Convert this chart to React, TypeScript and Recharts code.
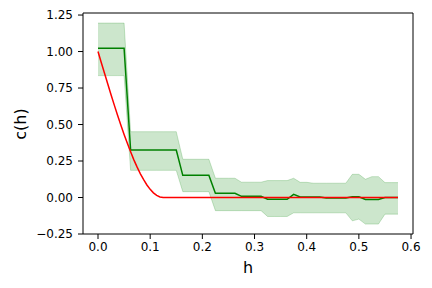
import { Area, ComposedChart, Label, Line, ReferenceLine, XAxis, YAxis } from "recharts";

// lag grid (h) used by the empirical estimate
const H = [
  0, 0.0125, 0.025, 0.0375, 0.05, 0.0625, 0.075, 0.0875, 0.1, 0.1125, 0.125, 0.1375, 0.15, 0.1625, 0.175, 0.1875,
  0.2, 0.2125, 0.225, 0.2375, 0.25, 0.2625, 0.275, 0.2875, 0.3, 0.3125, 0.325, 0.3375, 0.35, 0.3625, 0.375, 0.3875,
  0.4, 0.4125, 0.425, 0.4375, 0.45, 0.4625, 0.475, 0.4875, 0.5, 0.5125, 0.525, 0.5375, 0.55, 0.5625, 0.575,
];

// empirical c(h) (green line)
const C_EMP = [
  1.022, 1.022, 1.022, 1.022, 1.022, 0.325, 0.325, 0.325, 0.325, 0.325, 0.325, 0.325, 0.325, 0.152, 0.152, 0.152,
  0.152, 0.152, 0.029, 0.029, 0.029, 0.029, 0.008, 0.008, 0.008, 0.008, -0.012, -0.012, -0.012, -0.012, 0.022, 0.004,
  0.004, 0.004, 0.004, -0.004, -0.004, -0.004, -0.004, 0.005, 0.005, -0.014, -0.014, -0.014, 0.0, 0.0, 0.0,
];

// band around the estimate
const C_LOW = [
  0.835, 0.835, 0.835, 0.835, 0.835, 0.186, 0.186, 0.186, 0.186, 0.186, 0.186, 0.186, 0.186, 0.04, 0.04, 0.04,
  0.04, 0.04, -0.09, -0.09, -0.09, -0.09, -0.09, -0.09, -0.09, -0.09, -0.13, -0.13, -0.13, -0.13, -0.105, -0.105,
  -0.105, -0.105, -0.105, -0.105, -0.105, -0.105, -0.105, -0.16, -0.148, -0.182, -0.182, -0.182, -0.114, -0.114, -0.114,
];
const C_HIGH = [
  1.195, 1.195, 1.195, 1.195, 1.195, 0.451, 0.451, 0.451, 0.451, 0.451, 0.451, 0.451, 0.451, 0.262, 0.262, 0.262,
  0.262, 0.262, 0.132, 0.132, 0.132, 0.132, 0.105, 0.105, 0.105, 0.105, 0.116, 0.116, 0.116, 0.116, 0.132, 0.104,
  0.104, 0.098, 0.098, 0.098, 0.098, 0.098, 0.098, 0.159, 0.159, 0.125, 0.143, 0.143, 0.102, 0.102, 0.102,
];

// true model (red line)
const H_MODEL = [
  0, 0.00625, 0.0125, 0.01875, 0.025, 0.03125, 0.0375, 0.04375, 0.05, 0.05625, 0.0625, 0.06875, 0.075, 0.08125,
  0.0875, 0.09375, 0.1, 0.10625, 0.1125, 0.11875, 0.125, 0.575,
];
const C_MODEL = [
  1, 0.925, 0.851, 0.777, 0.704, 0.633, 0.564, 0.496, 0.432, 0.371, 0.313, 0.258, 0.208, 0.162, 0.122, 0.086,
  0.056, 0.032, 0.015, 0.004, 0, 0,
];

const X_TICKS = [0, 0.1, 0.2, 0.3, 0.4, 0.5, 0.6];
const Y_TICKS = [-0.25, 0, 0.25, 0.5, 0.75, 1.0, 1.25];

const X_DOMAIN: [number, number] = [-0.02875, 0.60375];
const Y_DOMAIN: [number, number] = [-0.25, 1.264];

const empTable = H.map((h, i) => ({ h, c: C_EMP[i], band: [C_LOW[i], C_HIGH[i]] }));
const modelTable = H_MODEL.map((h, i) => ({ h, m: C_MODEL[i] }));

const FONT = "DejaVu Sans, sans-serif";
const tickStyle = { fill: "#000", fontSize: 12, fontFamily: FONT };
const fmtY = (v: number) => (v < 0 ? "\u2212" + Math.abs(v).toFixed(2) : v.toFixed(2));

export default function App() {
  return (
    <div style={{ position: "absolute", left: 0, top: 0, width: 432, height: 288, background: "#fff" }}>
      <ComposedChart width={432} height={288} data={empTable} margin={{ top: 13, right: 19, left: 23, bottom: 14 }}>
        <XAxis
          dataKey="h"
          type="number"
          domain={X_DOMAIN}
          ticks={X_TICKS}
          tickFormatter={(v: number) => v.toFixed(1)}
          tick={tickStyle}
          tickSize={5}
          tickMargin={3}
          height={40}
          axisLine={{ stroke: "#000" }}
          tickLine={{ stroke: "#000" }}
          allowDataOverflow
        >
          <Label
            content={() => (
              <text x={248} y={273} textAnchor="middle" fontSize={16} fontFamily={FONT} fill="#000">
                h
              </text>
            )}
          />
        </XAxis>
        <YAxis
          type="number"
          domain={Y_DOMAIN}
          ticks={Y_TICKS}
          tickFormatter={fmtY}
          tick={tickStyle}
          tickSize={5}
          tickMargin={5}
          width={60}
          axisLine={{ stroke: "#000" }}
          tickLine={{ stroke: "#000" }}
          allowDataOverflow
        >
          <Label
            content={() => (
              <text
                x={26}
                y={124}
                transform="rotate(-90 26 124)"
                textAnchor="middle"
                fontSize={16}
                fontFamily={FONT}
                fill="#000"
              >
                c(h)
              </text>
            )}
          />
        </YAxis>
        <ReferenceLine y={Y_DOMAIN[1]} stroke="#000" />
        <ReferenceLine x={X_DOMAIN[1]} stroke="#000" />
        <Area
          dataKey="band"
          type="linear"
          fill="#008000"
          fillOpacity={0.2}
          stroke="#008000"
          strokeOpacity={0.2}
          isAnimationActive={false}
        />
        <Line dataKey="c" type="linear" stroke="#008000" strokeWidth={1.5} dot={false} isAnimationActive={false} />
        <Line
          data={modelTable}
          dataKey="m"
          type="linear"
          stroke="#ff0000"
          strokeWidth={1.5}
          dot={false}
          isAnimationActive={false}
        />
      </ComposedChart>
    </div>
  );
}
